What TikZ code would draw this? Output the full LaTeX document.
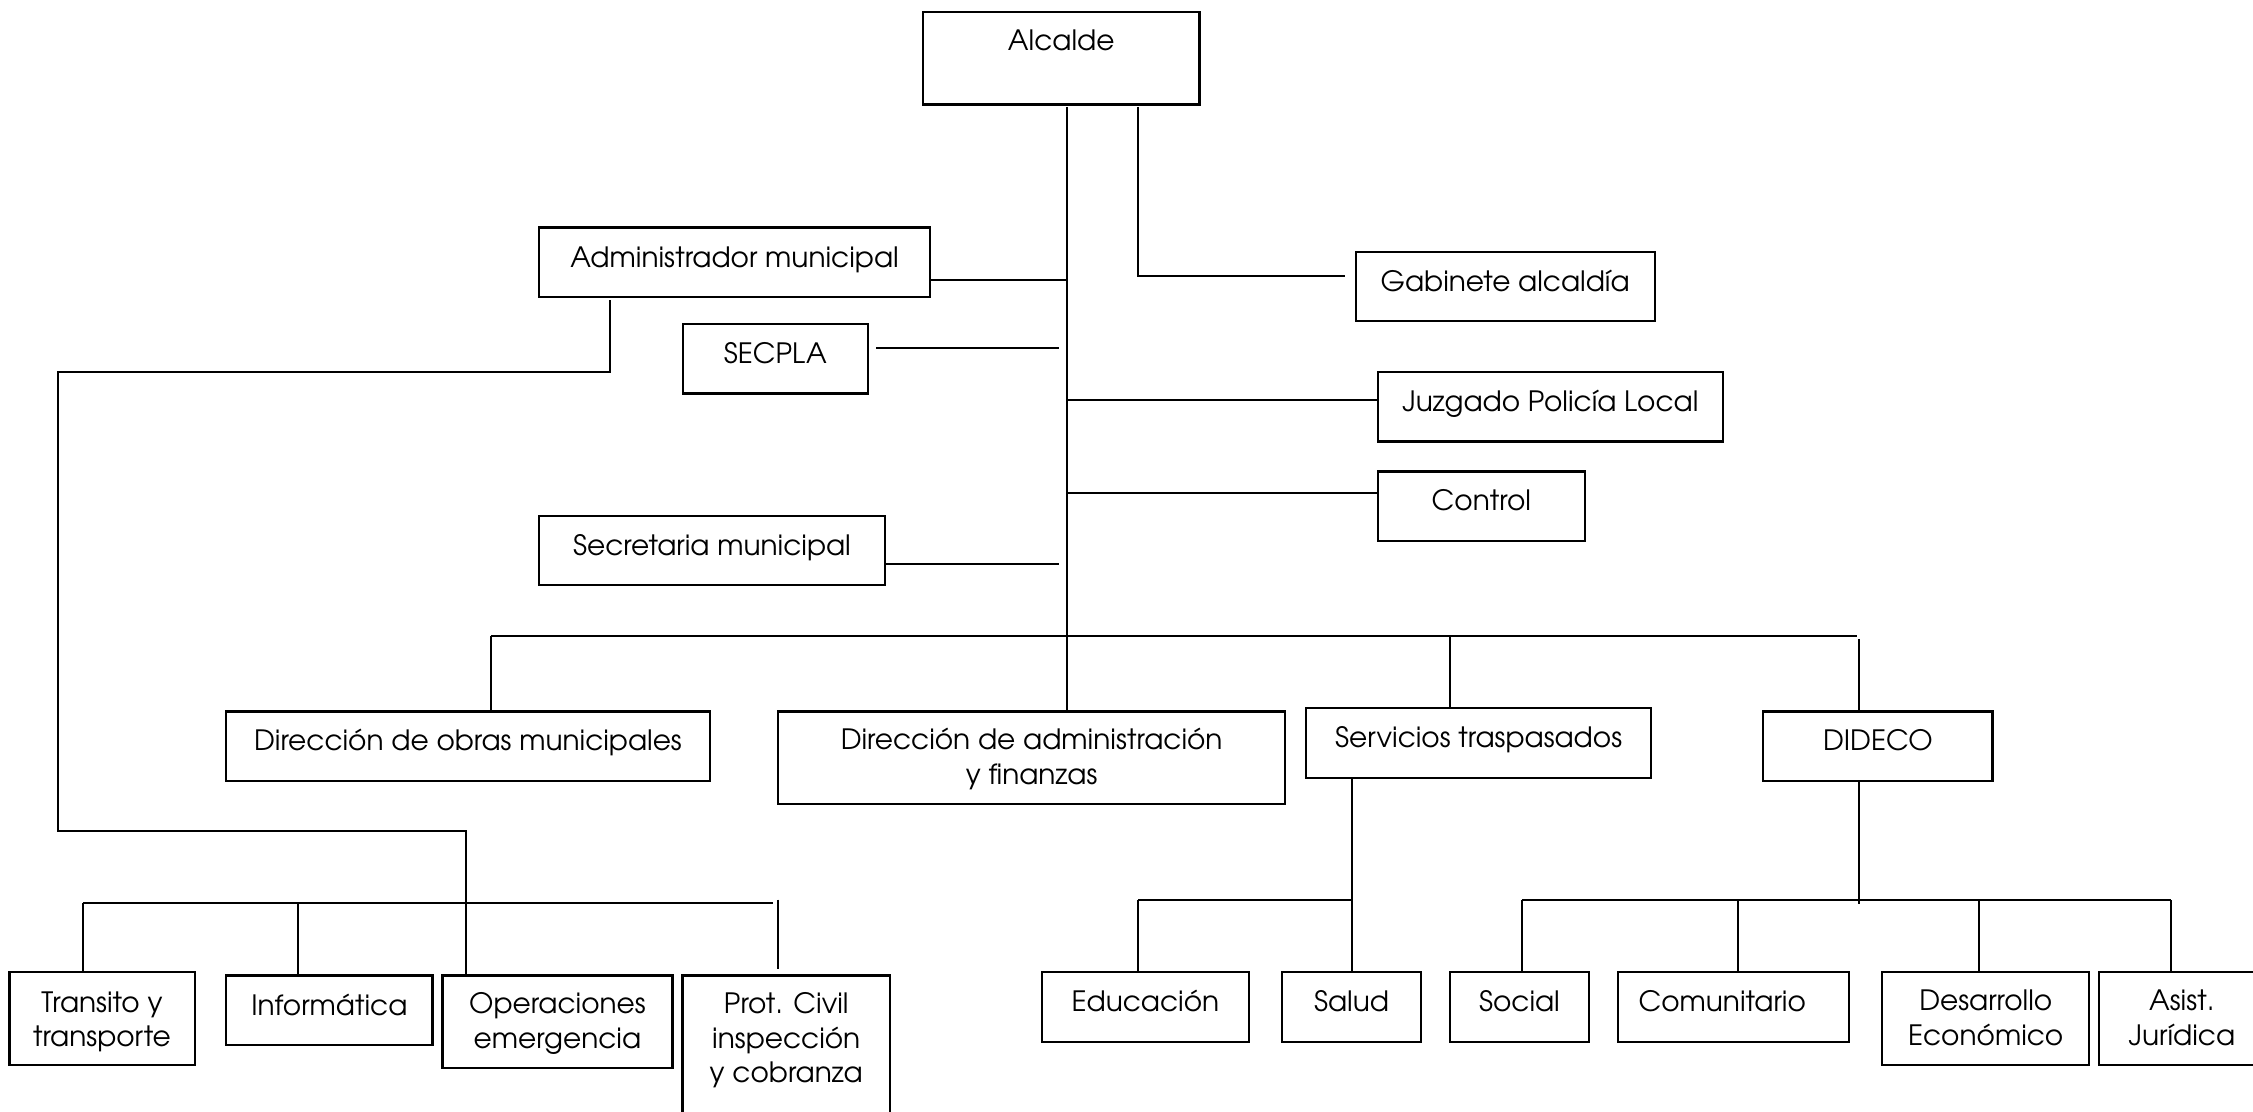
\documentclass[tikz,border=0pt]{standalone}
\usepackage{fontspec}
\setmainfont{TeX Gyre Adventor}
\newcommand\bxt[2]{\raisebox{#1}[0pt][0pt]{\begin{tabular}{@{}c@{}}#2\end{tabular}}}
\newcommand\orgbox[7][]{\node[bx,#1, minimum width={(#4-#2)*0.5pt}, minimum height={(#5-#3)*0.5pt}] (#6) at ({(#2+#4)/2},{(#3+#5)/2}) {#7};}
\begin{document}
\begin{tikzpicture}[x=0.5pt,y=-0.5pt,
  bx/.style={draw, line width=1.1pt, inner sep=0pt, font=\fontsize{14}{17.25}\selectfont},
  ln/.style={line width=1pt}]
\fill[white] (0,0) rectangle (2253,1112);
\useasboundingbox (0,0) rectangle (2253,1112);
% boxes
\orgbox{923}{11.8}{1199.5}{104.6}{alc}{\bxt{3.45pt}{Alcalde}}
\orgbox{539}{227.5}{930}{297}{adm}{\bxt{-2.55pt}{Administrador municipal}}
\orgbox{683}{324}{867.7}{393.6}{sec}{\bxt{-2.55pt}{SECPLA}}
\orgbox{1355.6}{251.8}{1654.7}{321.4}{gab}{\bxt{-2.55pt}{Gabinete alcaldía}}
\orgbox{1378}{371.8}{1722.6}{441.4}{jpl}{\bxt{-2.55pt}{Juzgado Policía Local}}
\orgbox{1378}{471.4}{1584.6}{540.7}{ctl}{\bxt{-2.55pt}{Control}}
\orgbox{539}{516}{885}{585.3}{smu}{\bxt{-2.55pt}{Secretaria municipal}}
\orgbox{226}{711.4}{710}{780.7}{dom}{\bxt{-2.55pt}{Dirección de obras municipales}}
\orgbox{778}{711.4}{1285.3}{804}{daf}{\bxt{-4.8pt}{Dirección de administración\\y finanzas}}
\orgbox{1306}{707.9}{1651.3}{777.6}{stp}{\bxt{-2.55pt}{Servicios traspasados}}
\orgbox{1763.1}{711.4}{1992.5}{780.7}{did}{\bxt{-2.55pt}{DIDECO}}
\orgbox{9.4}{971.9}{194.6}{1065}{tra}{\bxt{-5.55pt}{Transito y\\transporte}}
\orgbox{226.3}{975.4}{432.4}{1045}{inf}{\bxt{-2.55pt}{Informática}}
\orgbox{442.5}{975.4}{672.4}{1068}{ope}{\bxt{-4.8pt}{Operaciones\\emergencia}}
\orgbox{682.5}{975.4}{890}{1130}{pro}{\bxt{2.05pt}{Prot. Civil\\inspección\\y cobranza}}
\orgbox{1041.6}{971.9}{1249.3}{1041.6}{edu}{\bxt{-2.55pt}{Educación}}
\orgbox{1282}{972}{1421}{1042}{sal}{\bxt{-2.55pt}{Salud}}
\orgbox{1449.9}{972}{1589}{1042}{soc}{\bxt{-2.55pt}{Social}}
\orgbox{1617.7}{972}{1848.7}{1041.6}{com}{\bxt{-2.55pt}{Comunitario\hspace*{11pt}}}
\orgbox{1882.2}{972}{2089.2}{1065}{des}{\bxt{-4.8pt}{Desarrollo\\Económico}}
\orgbox{2098.8}{972}{2265}{1065}{asi}{\bxt{-4.8pt}{Asist.\\Jurídica}}
% junction coordinates
\coordinate (tk) at (1066.6,107);
\coordinate (tkL) at (1059.4,107);
\coordinate (gk) at (1138,107);
\coordinate (b1) at (490.8,635.7);
\coordinate (b2) at (1857.4,635.7);
\coordinate (bS) at (1449.9,635.7);
\coordinate (bD) at (1859,638.9);
\coordinate (k1) at (57.7,372);
\coordinate (k2) at (57.7,831.4);
\coordinate (sb1) at (82.9,903.2);
\coordinate (sb2) at (773.3,903.2);
\coordinate (sbI) at (298.4,903.2);
\coordinate (pv) at (778.3,899.7);
\coordinate (eb) at (1138.2,900.4);
\coordinate (dd) at (1859,904);
\coordinate (d1) at (1521.8,900.4);
\coordinate (dc) at (1738.4,900.4);
\coordinate (de) at (1978.9,900.4);
\coordinate (d4) at (2170.7,900.4);
% connectors
\draw[ln] (tk) -- (tk |- daf.north);
\draw[ln] (gk) |- ([shift={(-9.6,-10.6)}]gab.west);
\draw[ln] ([shift={(0,17.4)}]adm.east) coordinate (a1) -- (a1 -| tk);
\draw[ln] ([shift={(7.3,-10.8)}]sec.east) coordinate (s1) -- (s1 -| tkL);
\draw[ln] ([shift={(0,-6.6)}]jpl.west) coordinate (j1) -- (j1 -| tk);
\draw[ln] ([shift={(0,-13)}]ctl.west) coordinate (c1) -- (c1 -| tk);
\draw[ln] ([shift={(0,13.6)}]smu.east) coordinate (m1) -- (m1 -| tkL);
\draw[ln] (b1) -- (b2);
\draw[ln] (b1) -- (b1 |- dom.north);
\draw[ln] (bS) -- (bS |- stp.north);
\draw[ln] (bD) -- (bD |- did.north);
\draw[ln] ([shift={(-124.5,2)}]adm.south) |- (k1) -- (k2) -| ([shift={(-91.15,0)}]ope.north);
\draw[ln] (sb1) -- (sb2);
\draw[ln] (sb1) -- (sb1 |- tra.north);
\draw[ln] (sbI) -- (sbI |- inf.north);
\draw[ln] (pv) -- ([yshift=2.7pt]pv |- pro.north);
\draw[ln] (stp.south -| sal.north) -- (sal.north);
\draw[ln] (eb) -- (eb -| sal.north);
\draw[ln] (eb) -- (eb |- edu.north);
\draw[ln] (did.south -| dd) -- (dd);
\draw[ln] (d1) -- (d4);
\draw[ln] (d1) -- (d1 |- soc.north);
\draw[ln] (dc) -- (dc |- com.north);
\draw[ln] (de) -- (de |- des.north);
\draw[ln] (d4) -- (d4 |- asi.north);
\end{tikzpicture}
\end{document}
